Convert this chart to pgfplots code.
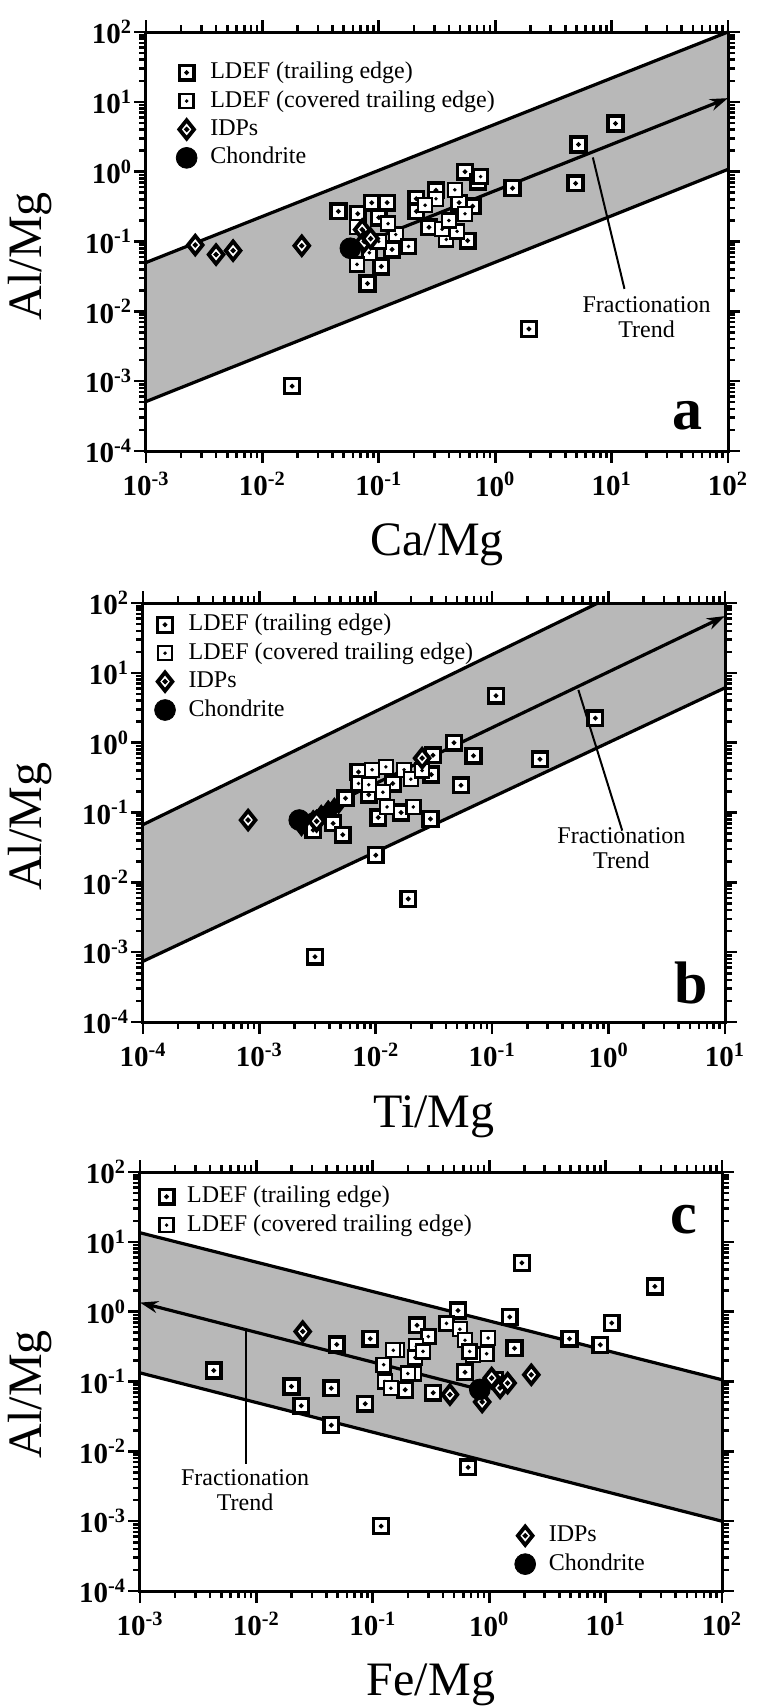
\documentclass[border=0pt]{standalone}
\usepackage{fontspec}
\setmainfont{Liberation Serif}
\usepackage{pgfplots}
\pgfplotsset{compat=1.18}
\usetikzlibrary{arrows.meta}

\pgfdeclareplotmark{sqdot}{%
  \pgfpathrectangle{\pgfqpoint{-\pgfplotmarksize}{-\pgfplotmarksize}}{\pgfqpoint{2\pgfplotmarksize}{2\pgfplotmarksize}}%
  \pgfusepathqfillstroke
  \pgfpathcircle{\pgfpointorigin}{0.12pt}%
  \pgfusepathqstroke}
\pgfdeclareplotmark{diadot}{%
  \pgfpathmoveto{\pgfqpoint{0pt}{\pgfplotmarksize}}%
  \pgfpathlineto{\pgfqpoint{0.8\pgfplotmarksize}{0pt}}%
  \pgfpathlineto{\pgfqpoint{0pt}{-\pgfplotmarksize}}%
  \pgfpathlineto{\pgfqpoint{-0.8\pgfplotmarksize}{0pt}}%
  \pgfpathclose
  \pgfusepathqfillstroke
  \pgfpathcircle{\pgfpointorigin}{0.12pt}%
  \pgfusepathqstroke}

\newcommand{\tl}[1]{\textbf{10}\textsuperscript{\textbf{#1}}}

% box ticks: #1 = exponent of xmin, #2 = exponent of xmax, #3 = #2 - 1
\newcommand{\boxticks}[3]{%
  \foreach \e in {#1,...,#2}{\edef\tmp{\noexpand\draw[line width=1.3pt] (axis cs:1e\e,1e-4) -- ++(0pt,-6pt); \noexpand\draw[line width=1.3pt] (axis cs:1e\e,1e2) -- ++(0pt,6pt);}\tmp}%
  \foreach \e in {-4,...,2}{\edef\tmp{\noexpand\draw[line width=1.3pt] (axis cs:1e#1,1e\e) -- ++(-6pt,0pt); \noexpand\draw[line width=1.3pt] (axis cs:1e#2,1e\e) -- ++(6pt,0pt);}\tmp}%
  \foreach \e in {#1,...,#3}{\foreach \m in {2,...,9}{\edef\tmp{\noexpand\draw[line width=1pt] (axis cs:\m e\e,1e-4) -- ++(0pt,-3.5pt); \noexpand\draw[line width=1pt] (axis cs:\m e\e,1e2) -- ++(0pt,3.5pt);}\tmp}}%
  \foreach \e in {-4,...,1}{\foreach \m in {2,...,9}{\edef\tmp{\noexpand\draw[line width=1pt] (axis cs:1e#1,\m e\e) -- ++(-3.5pt,0pt); \noexpand\draw[line width=1pt] (axis cs:1e#2,\m e\e) -- ++(3.5pt,0pt);}\tmp}}%
}

\pgfplotsset{
  mypanel/.style={
    scale only axis, width=291pt, height=209.5pt,
    ymin=1e-4, ymax=1e2,
    clip=false, axis on top,
    axis line style={line width=1.5pt},
    tick align=outside,
    major tick length=6pt, minor tick length=3.5pt,
    tick style={line width=1.3pt, black},
    ytick={1e-4,1e-3,1e-2,1e-1,1,10,100},
    yticklabels={\tl{-4},\tl{-3},\tl{-2},\tl{-1},\tl{0},\tl{1},\tl{2}},
    minor ytick={2e-4,3e-4,4e-4,5e-4,6e-4,7e-4,8e-4,9e-4,2e-3,3e-3,4e-3,5e-3,6e-3,7e-3,8e-3,9e-3,0.02,0.03,0.04,0.05,0.06,0.07,0.08,0.09,0.2,0.3,0.4,0.5,0.6,0.7,0.8,0.9,2,3,4,5,6,7,8,9,20,30,40,50,60,70,80,90},
    tick label style={font=\fontsize{14.5}{16}\selectfont},
    xticklabel style={yshift=-1pt},
    yticklabel style={xshift=2.5pt},
    xlabel style={font=\fontsize{24}{27}\selectfont, at={(axis description cs:0.5,-0.225)}, anchor=center},
    ylabel style={font=\fontsize{24}{27}\selectfont, inner sep=0pt, anchor=center},
    ylabel={Al/Mg},
    legend cell align=left,
    legend style={draw=none, fill=none, anchor=north west,
      font=\fontsize{12}{14}\selectfont, row sep=1pt, column sep=6pt,
      nodes={inner sep=0.6pt, text height=9pt, text depth=3pt}},
  },
  myxA/.style={xmin=1e-3, xmax=1e2,
    xtick={1e-3,1e-2,1e-1,1,10,100},
    xticklabels={\tl{-3},\tl{-2},\tl{-1},\tl{0},\tl{1},\tl{2}},
    minor xtick={2e-3,3e-3,4e-3,5e-3,6e-3,7e-3,8e-3,9e-3,0.02,0.03,0.04,0.05,0.06,0.07,0.08,0.09,0.2,0.3,0.4,0.5,0.6,0.7,0.8,0.9,2,3,4,5,6,7,8,9,20,30,40,50,60,70,80,90}},
  myxB/.style={xmin=1e-4, xmax=1e1,
    xtick={1e-4,1e-3,1e-2,1e-1,1,10},
    xticklabels={\tl{-4},\tl{-3},\tl{-2},\tl{-1},\tl{0},\tl{1}},
    minor xtick={2e-4,3e-4,4e-4,5e-4,6e-4,7e-4,8e-4,9e-4,2e-3,3e-3,4e-3,5e-3,6e-3,7e-3,8e-3,9e-3,0.02,0.03,0.04,0.05,0.06,0.07,0.08,0.09,0.2,0.3,0.4,0.5,0.6,0.7,0.8,0.9,2,3,4,5,6,7,8,9}},
  mytrail/.style={only marks, mark=sqdot, mark size=3.7pt, mark options={line width=1.7pt, fill=white, draw=black}},
  mycover/.style={only marks, mark=sqdot, mark size=3.5pt, mark options={line width=1.2pt, fill=white, draw=black}},
  myidp/.style={only marks, mark=diadot, mark size=4.6pt, mark options={line width=1.9pt, fill=white, draw=black}},
  myidpblk/.style={only marks, mark=diamond*, mark size=4.6pt, mark options={fill=black, draw=black}, forget plot},
  mychon/.style={only marks, mark=*, mark size=5.2pt, mark options={fill=black, draw=black}},
  myband/.style={fill=black!28, draw=none, forget plot},
  mybline/.style={line width=1.6pt, black, forget plot, no markers},
  mypline/.style={line width=1pt, black, forget plot, no markers},
  mytrend/.style={line width=1.6pt, black, forget plot, no markers, -{Stealth[length=9pt,width=6pt]}},
}

\begin{document}
\begin{tikzpicture}
\path[use as bounding box] (0,0) rectangle (382.5pt,-853.5pt);

% ---------------- panel a ----------------
\begin{axis}[xmode=log, ymode=log, mypanel, myxA, at={(73pt,-16pt)}, anchor=north west, xlabel={Ca/Mg},
  ylabel style={at={(axis description cs:-0.199,0.465)}},
  legend style={at={(axis description cs:0.041,0.945)}}]
\addplot[myband] coordinates {(1e-3,0.05) (1e2,100) (1e2,1.08) (1e-3,5.1e-4)} --cycle;
\addplot[mybline] coordinates {(1e-3,0.05) (1e2,100)};
\addplot[mybline] coordinates {(1e-3,5.1e-4) (1e2,1.08)};
\addplot[mytrend] coordinates {(0.057,0.08) (100,11.3)};
\addplot[mypline] coordinates {(6.9,1.6) (12.9,0.021)};
\addplot[mytrail] coordinates {(10.8,4.9) (5.2,2.45) (4.9,0.68) (1.41,0.58) (1.95,0.0056) (0.018,0.00085) (0.08,0.025) (0.105,0.044) (0.55,1.0) (0.71,0.72) (0.31,0.54) (0.21,0.41) (0.045,0.27) (0.066,0.25) (0.087,0.36) (0.118,0.36) (0.1,0.22) (0.13,0.077) (0.58,0.103) (0.64,0.32) (0.49,0.36) (0.27,0.16) (0.21,0.27)};
\addlegendentry{LDEF (trailing edge)}
\addplot[mycover] coordinates {(0.31,0.41) (0.38,0.107) (0.47,0.14) (0.35,0.15) (0.14,0.126) (0.18,0.085) (0.083,0.069) (0.065,0.047) (0.1,0.1) (0.12,0.18) (0.45,0.55) (0.25,0.33) (0.75,0.85) (0.55,0.25) (0.4,0.2) (0.065,0.16)};
\addlegendentry{LDEF (covered trailing edge)}
\addplot[myidp] coordinates {(0.00265,0.089) (0.004,0.065) (0.0056,0.074) (0.0218,0.087) (0.072,0.148) (0.075,0.1) (0.085,0.11)};
\addlegendentry{IDPs}
\addplot[mychon] coordinates {(0.057,0.08)};
\addlegendentry{Chondrite}
\boxticks{-3}{2}{1}
\node[font=\fontsize{12}{12.5}\selectfont, align=center] at (axis cs:20,0.0082) {Fractionation\\Trend};
\node[font=\bfseries\fontsize{30}{30}\selectfont] at (axis cs:45,3.2e-4) {a};
\end{axis}

% ---------------- panel b ----------------
\begin{axis}[xmode=log, ymode=log, mypanel, myxB, at={(71.5pt,-301.5pt)}, anchor=north west, xlabel={Ti/Mg},
  ylabel style={at={(axis description cs:-0.194,0.466)}},
  legend style={at={(axis description cs:0.009,0.99)}}]
\addplot[myband] coordinates {(1e-4,0.067) (0.81,100) (10,100) (10,6.1) (1e-4,7.4e-4)} --cycle;
\addplot[mybline] coordinates {(1e-4,0.067) (0.81,100)};
\addplot[mybline] coordinates {(1e-4,7.4e-4) (10,6.1)};
\addplot[mytrend] coordinates {(0.0022,0.078) (10,65)};
\addplot[mypline] coordinates {(0.55,5.7) (1.31,0.055)};
\addplot[myidpblk] coordinates {(0.0025,0.07) (0.0029,0.08) (0.0034,0.095) (0.0039,0.11) (0.0044,0.12) (0.0048,0.13) (0.0023,0.062)};
\addplot[mytrail] coordinates {(0.108,4.7) (0.77,2.24) (0.257,0.58) (0.047,1.0) (0.069,0.65) (0.054,0.246) (0.0295,0.081) (0.0165,0.1) (0.0105,0.085) (0.01,0.0245) (0.019,0.0058) (0.003,0.00086) (0.0055,0.16) (0.0029,0.056) (0.0043,0.07) (0.0052,0.048) (0.0087,0.18) (0.0071,0.38) (0.014,0.26) (0.031,0.66) (0.03,0.35)};
\addlegendentry{LDEF (trailing edge)}
\addplot[mycover] coordinates {(0.0071,0.26) (0.0093,0.41) (0.0122,0.45) (0.0175,0.41) (0.0115,0.195) (0.0087,0.25) (0.021,0.12) (0.0125,0.12) (0.02,0.3) (0.025,0.4)};
\addlegendentry{LDEF (covered trailing edge)}
\addplot[myidp] coordinates {(0.0008,0.078) (0.025,0.6) (0.0031,0.075)};
\addlegendentry{IDPs}
\addplot[mychon] coordinates {(0.0022,0.078)};
\addlegendentry{Chondrite}
\boxticks{-4}{1}{0}
\node[font=\fontsize{12}{12.5}\selectfont, align=center] at (axis cs:1.29,0.031) {Fractionation\\Trend};
\node[font=\bfseries\fontsize{30}{30}\selectfont] at (axis cs:5.1,3.6e-4) {b};
\end{axis}

% ---------------- panel c ----------------
\begin{axis}[xmode=log, ymode=log, mypanel, myxA, at={(70pt,-586pt)}, anchor=north west, xlabel={Fe/Mg},
  ylabel style={at={(axis description cs:-0.189,0.47)}},
  legend style={at={(axis description cs:0.022,0.983)}}]
\addplot[myband] coordinates {(1e-3,13.5) (1e2,0.106) (1e2,0.001) (1e-3,0.133)} --cycle;
\addplot[mybline] coordinates {(1e-3,13.5) (1e2,0.106)};
\addplot[mybline] coordinates {(1e-3,0.133) (1e2,0.001)};
\addplot[mytrend] coordinates {(0.83,0.077) (1e-3,1.35)};
\addplot[mypline] coordinates {(0.0082,0.53) (0.0082,0.0066)};
\addplot[mytrail] coordinates {(1.91,5.0) (26.5,2.3) (11.3,0.69) (4.9,0.41) (9.0,0.335) (1.5,0.84) (0.54,1.04) (0.24,0.64) (0.0043,0.144) (0.02,0.085) (0.044,0.08) (0.0243,0.045) (0.086,0.048) (0.044,0.0237) (0.66,0.0059) (0.118,0.00085) (0.62,0.136) (0.33,0.069) (0.19,0.076) (0.095,0.41) (0.049,0.34) (1.65,0.3)};
\addlegendentry{LDEF (trailing edge)}
\addplot[mycover] coordinates {(0.98,0.42) (0.95,0.25) (0.73,0.24) (0.43,0.68) (0.56,0.56) (0.62,0.39) (1.13,0.107) (0.3,0.44) (0.236,0.32) (0.162,0.28) (0.124,0.174) (0.23,0.22) (0.225,0.13) (0.127,0.1) (0.143,0.08) (0.2,0.13) (0.27,0.27) (0.68,0.27) (0.15,0.28)};
\addlegendentry{LDEF (covered trailing edge)}
\boxticks{-3}{2}{1}
\node[font=\fontsize{12}{12.5}\selectfont, align=center] at (axis cs:0.008,0.00276) {Fractionation\\Trend};
\node[font=\bfseries\fontsize{30}{30}\selectfont] at (axis cs:47,21) {c};
\end{axis}
\begin{axis}[xmode=log, ymode=log, mypanel, myxA, hide axis, at={(70pt,-586pt)}, anchor=north west,
  legend style={at={(axis description cs:0.633,0.174)}}]
\addplot[myidp] coordinates {(0.025,0.52) (0.46,0.065) (0.87,0.051) (1.05,0.112) (1.24,0.081) (1.44,0.095) (2.3,0.125)};
\addlegendentry{IDPs}
\addplot[mychon] coordinates {(0.83,0.077)};
\addlegendentry{Chondrite}
\end{axis}
\end{tikzpicture}
\end{document}
